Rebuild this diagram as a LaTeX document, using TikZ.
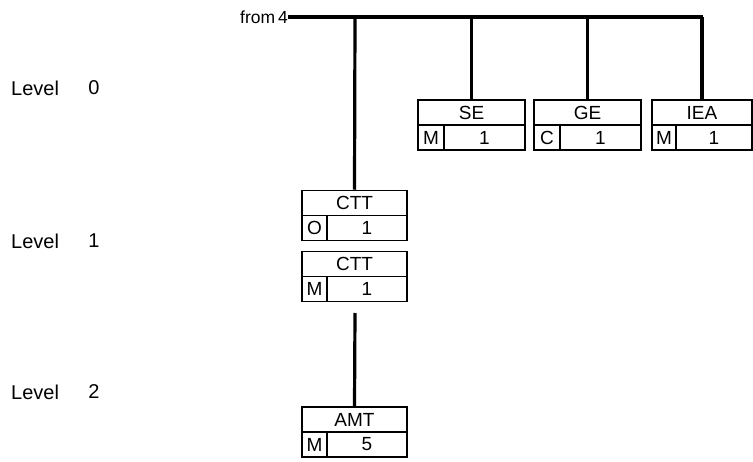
\documentclass[tikz,border=0pt]{standalone}
\usepackage{fontspec}
\setmainfont{Liberation Sans}
\begin{document}
\begin{tikzpicture}[x=1pt,y=-1pt,
  cell/.style={draw,line width=1.5pt,rectangle,inner sep=0pt,minimum height=25pt,font=\fontsize{19}{19}\selectfont},
  conn/.style={line width=3.2pt},
  lbl/.style={inner sep=0pt,font=\fontsize{20}{20}\selectfont},
  fromlbl/.style={inner sep=0pt,font=\fontsize{17.5}{17.5}\selectfont}]
\useasboundingbox (0,0) rectangle (753,462);
% Level labels
\node[lbl,anchor=west] (l0) at (11,88) {Level};
\node[lbl] (l0n) at (94,88) {0};
\node[lbl,anchor=west] (l1) at (11,241) {Level};
\node[lbl] (l1n) at (94,241) {1};
\node[lbl,anchor=west] (l2) at (11,392) {Level};
\node[lbl] (l2n) at (94,392) {2};
% from 4
\node[fromlbl,anchor=east] (from) at (288,17) {from\,4};
% boxes: SE
\node[cell,minimum width=107pt] (se) at (471.5,112.5) {SE};
\node[cell,minimum width=26pt] (sek) at (431,137.5) {M};
\node[cell,minimum width=81pt] (sen) at (484.5,137.5) {1};
% GE
\node[cell,minimum width=107pt] (ge) at (587.5,112.5) {GE};
\node[cell,minimum width=26pt] (gek) at (547,137.5) {C};
\node[cell,minimum width=81pt] (gen) at (600.5,137.5) {1};
% IEA
\node[cell,minimum width=100pt] (iea) at (702,112.5) {IEA};
\node[cell,minimum width=24pt] (ieak) at (664,137.5) {M};
\node[cell,minimum width=76pt] (iean) at (714,137.5) {1};
% CTT 1
\node[cell,minimum width=105pt] (ctta) at (354.5,203) {CTT};
\node[cell,minimum width=25pt] (cttak) at (314.5,228) {O};
\node[cell,minimum width=80pt] (cttan) at (367,228) {1};
% CTT 2
\node[cell,minimum width=105pt] (cttb) at (354.5,264) {CTT};
\node[cell,minimum width=25pt] (cttbk) at (314.5,289) {M};
\node[cell,minimum width=80pt] (cttbn) at (367,289) {1};
% AMT
\node[cell,minimum width=105pt] (amt) at (354.5,419.5) {AMT};
\node[cell,minimum width=25pt] (amtk) at (314.5,444.5) {M};
\node[cell,minimum width=80pt] (amtn) at (367,444.5) {5};
% connectors
\coordinate (bus) at (355,17);
\coordinate (busend) at (703,17);
\coordinate (low) at (355,313);
\draw[conn] (from.east) -- (busend);
\draw[conn] (bus) -- (ctta.north);
\draw[conn] (se.north |- bus) -- (se.north);
\draw[conn] (ge.north |- bus) -- (ge.north);
\draw[conn] (iea.north |- bus) -- (iea.north);
\draw[conn] (low) -- (amt.north);
\end{tikzpicture}
\end{document}
